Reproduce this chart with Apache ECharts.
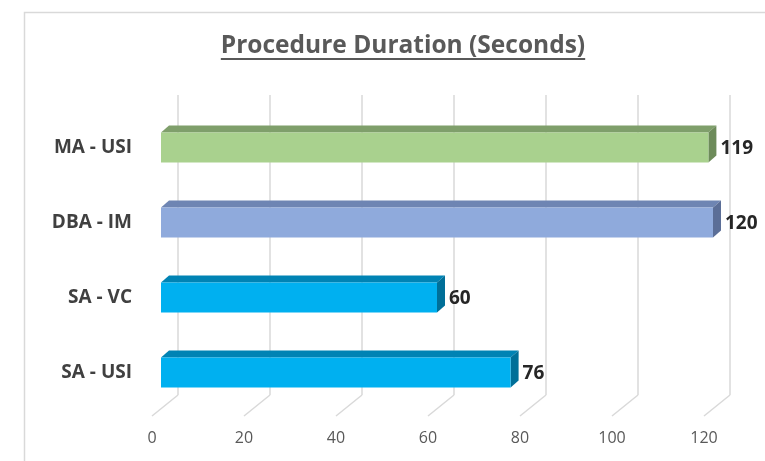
<!DOCTYPE html>
<html>
<head>
<meta charset="utf-8">
<script src="https://cdn.jsdelivr.net/npm/echarts@6/dist/echarts.min.js"></script>
<style>
  html, body { margin: 0; padding: 0; background: #ffffff; }
  #chart { width: 765px; height: 461px; }
</style>
</head>
<body>
<div id="chart"></div>
<script>
// Procedure durations, in seconds, per procedure
const categories = ['SA - USI', 'SA - VC', 'DBA - IM', 'MA - USI'];
const durations = [76, 60, 120, 119];
const tickValues = [0, 20, 40, 60, 80, 100, 120];
const chartTitle = 'Procedure Duration (Seconds)';

// Face colours of each 3D bar: front, top, side
const barFaces = [
  { front: '#00B0F0', top: '#0083B4', side: '#006F98' },
  { front: '#00B0F0', top: '#0083B4', side: '#006F98' },
  { front: '#8FAADC', top: '#6E85B3', side: '#5B6E97' },
  { front: '#A9D18E', top: '#7F9F6B', side: '#6D8B5A' }
];

const FONT = 'Open Sans';
const GRID_COLOR = '#D9D9D9';
// Oblique depth offsets (pixels) relative to the bar front plane
const BACK = { dx: 17, dy: -15 };
const FRONT = { dx: -9, dy: 6 };
const BAR_DEPTH = { dx: 8, dy: -7 };
const BAR_HALF = 15;

const chart = echarts.init(document.getElementById('chart'), null, { renderer: 'canvas' });

function measure(text, font) {
  const ctx = document.createElement('canvas').getContext('2d');
  ctx.font = font;
  return ctx.measureText(text).width;
}

const titleFont = 'bold 24.5px "' + FONT + '"';
const titleW = measure(chartTitle, titleFont);
const titleCx = 403;

function renderWalls(params, api) {
  const v = api.value(0);
  const x = api.coord([v, 0])[0];
  const cs = params.coordSys;
  const top = cs.y, bottom = cs.y + cs.height;
  const style = { stroke: GRID_COLOR, lineWidth: 1.5, fill: null };
  return {
    type: 'group',
    children: [
      { type: 'line', shape: { x1: x + BACK.dx, y1: top + BACK.dy, x2: x + BACK.dx, y2: bottom + BACK.dy }, style: style },
      { type: 'line', shape: { x1: x + BACK.dx, y1: bottom + BACK.dy, x2: x + FRONT.dx, y2: bottom + FRONT.dy }, style: style }
    ]
  };
}

function renderBar(params, api) {
  const v = api.value(0);
  const c = api.value(1);
  const p0 = api.coord([0, c]);
  const p1 = api.coord([v, c]);
  const f = barFaces[params.dataIndex];
  const y0 = p0[1] - BAR_HALF, y1 = p0[1] + BAR_HALF;
  const x0 = p0[0], x1 = p1[0];
  const dx = BAR_DEPTH.dx, dy = BAR_DEPTH.dy;
  return {
    type: 'group',
    children: [
      { type: 'polygon', shape: { points: [[x0, y0], [x0 + dx, y0 + dy], [x1 + dx, y0 + dy], [x1, y0]] }, style: { fill: f.top } },
      { type: 'polygon', shape: { points: [[x1, y0], [x1 + dx, y0 + dy], [x1 + dx, y1 + dy], [x1, y1]] }, style: { fill: f.side } },
      { type: 'rect', shape: { x: x0, y: y0, width: x1 - x0, height: y1 - y0 }, style: { fill: f.front } },
      { type: 'text', style: { text: String(v), x: x1 + dx + 4, y: p1[1] + 1, align: 'left', verticalAlign: 'middle',
          fontFamily: FONT, fontWeight: 'bold', fontSize: 19, fill: '#262626' } }
    ]
  };
}

const option = {
  animation: false,
  backgroundColor: '#ffffff',
  graphic: [
    { type: 'polyline', shape: { points: [[24.5, 470], [24.5, 12.5], [770, 12.5]] }, style: { stroke: GRID_COLOR, lineWidth: 1.5, fill: null } },
    { type: 'text', x: titleCx, y: 46, style: { text: chartTitle, font: titleFont, fill: '#595959', align: 'center', verticalAlign: 'middle' } },
    { type: 'line', shape: { x1: titleCx - titleW / 2, y1: 59, x2: titleCx + titleW / 2, y2: 59 }, style: { stroke: '#595959', lineWidth: 2 } }
  ],
  grid: { left: 161, top: 110, width: 552, height: 300, containLabel: false },
  xAxis: {
    type: 'value', min: 0, max: 120, interval: 20,
    axisLine: { show: false }, axisTick: { show: false }, splitLine: { show: false },
    axisLabel: { showMinLabel: true, showMaxLabel: true, margin: 20, padding: [0, 18, 0, 0],
      color: '#595959', fontFamily: FONT, fontSize: 16 }
  },
  yAxis: {
    type: 'category', data: categories,
    axisLine: { show: false }, axisTick: { show: false }, splitLine: { show: false },
    axisLabel: { margin: 29, padding: [12, 0, 0, 0], color: '#404040', fontFamily: FONT, fontWeight: 'bold', fontSize: 19 }
  },
  series: [
    { type: 'custom', z: 1, silent: true, renderItem: renderWalls, data: tickValues.map(v => [v]), encode: { x: 0 } },
    { type: 'custom', z: 2, renderItem: renderBar, data: durations.map((v, i) => [v, i]), encode: { x: 0, y: 1 } }
  ]
};

chart.setOption(option);
</script>
</body>
</html>
